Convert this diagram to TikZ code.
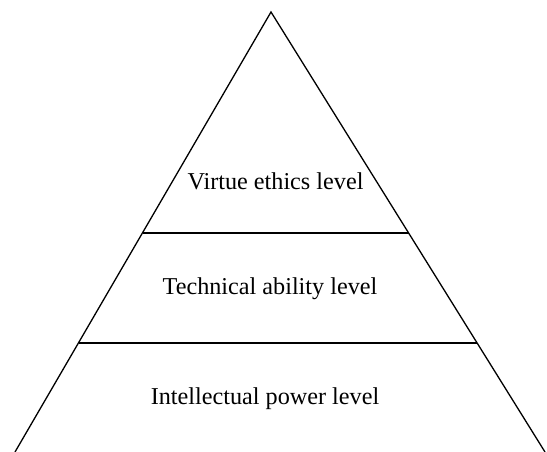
\documentclass[tikz,border=0pt]{standalone}
\usepackage{fontspec}
\setmainfont{Liberation Serif}
\begin{document}
\begin{tikzpicture}[x=1pt,y=-1pt,line width=1.3pt,
  lbl/.style={font=\fontsize{24.2}{27}\selectfont, inner sep=0pt}]
\useasboundingbox (0,0) rectangle (547,452);
\coordinate (apex) at (271,12);
\coordinate (bl) at (15,452);
\coordinate (br) at (545,452);
\coordinate (l1) at (142.5,233);
\coordinate (r1) at (408.5,233);
\coordinate (l2) at (78.5,343);
\coordinate (r2) at (477,343);
\draw (bl) -- (apex) -- (br);
\draw (l1) -- (r1);
\draw (l2) -- (r2);
\node[lbl] (v) at (275.5,181) {Virtue ethics level};
\node[lbl] (t) at (270,289) {Technical ability level};
\node[lbl] (i) at (265,399) {Intellectual power level};
\end{tikzpicture}
\end{document}
